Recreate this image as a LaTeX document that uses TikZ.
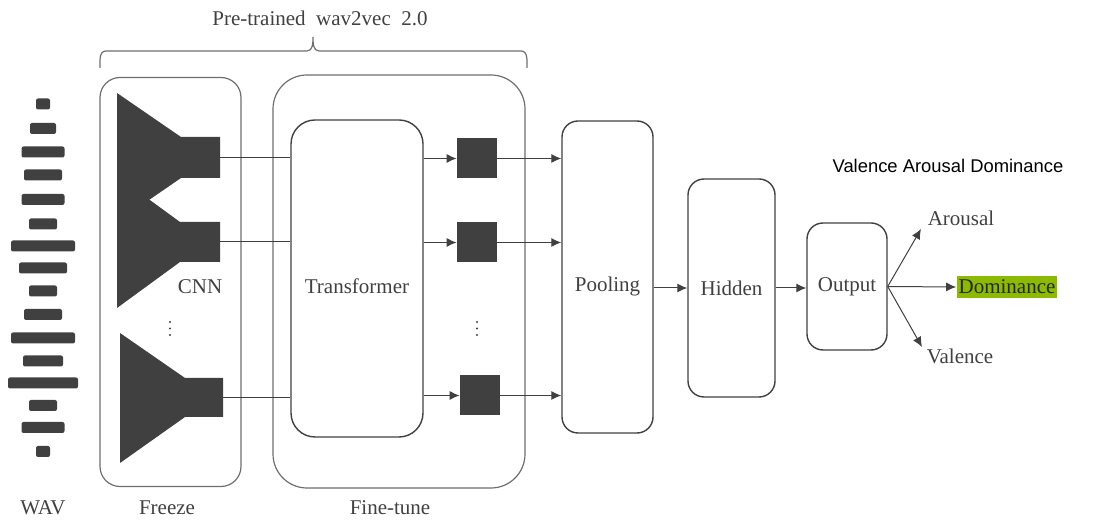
\documentclass[tikz,border=0pt]{standalone}
\usepackage{fontspec}
\setmainfont{Liberation Serif}
\newfontfamily\labelsans{Liberation Sans}
\usetikzlibrary{arrows,arrows.meta}
\usetikzlibrary{positioning}

\definecolor{ink}{HTML}{404040}
\definecolor{rim}{HTML}{6E6E6E}
\definecolor{hilite}{HTML}{8CBA00}

\begin{document}
\begin{tikzpicture}
	[> = {Latex[length=5pt,width=4.5pt]},
	x=0.5pt, y=-0.5pt,
	every node/.style={font=\fontsize{10.5}{12}\selectfont, text=ink},
	frame/.style = {draw=rim, line width=0.6pt, rounded corners=10pt},
	block/.style = {draw=ink, line width=0.7pt, rounded corners=8pt},
	chip/.style = {fill=ink, minimum size=20pt, inner sep=0pt},
	bar/.style = {fill=ink, rounded corners=1pt},
	link/.style = {draw=ink, line width=0.5pt},
	cnn/.style = {fill=ink}
	]
	\useasboundingbox (0,0) rectangle (1093,523);

	% waveform
	\foreach \ya/\w in {104/14, 128.5/26, 152/43, 175/38, 199.5/43, 224/28, 246/64, 268/48,
	                    291/28, 314.5/38, 338/64, 361/40, 383/70, 405.5/28, 427.5/43, 451.5/14}
		\fill[bar] (43-\w/2,\ya-5.5) rectangle (43+\w/2,\ya+5.5);
	\node (wav) at (43,508) {WAV};

	% outer frames
	\node[frame, minimum width=70.5pt, minimum height=204.5pt] (freeze) at (170.5,282) {};
	\node[frame, rounded corners=17pt, minimum width=126pt, minimum height=206.5pt] (finetune) at (399,281.5) {};
	\node (freeze-lbl) at (167,508) {Freeze};
	\node (finetune-lbl) at (390,508) {Fine-tune};

	% brace
	\draw[rim, line width=0.6pt] (100,68) to[out=90,in=180] (106,51) -- (307,51)
		to[out=0,in=-90] (313,37) to[out=-90,in=180] (319,51) -- (521,51) to[out=0,in=90] (527,68);
	\node (brace-lbl) at (320,18) {Pre-trained\ \ wav2vec\ \ 2.0};

	% CNN encoders
	\fill[cnn] (117,93) -- (181,137) -- (220,137) -- (220,178) -- (181,178) -- (117,222) -- cycle;
	\fill[cnn] (117,176) -- (180,222) -- (220,222) -- (220,262) -- (180,262) -- (117,308) -- cycle;
	\fill[cnn] (120,333) -- (185,378) -- (223,378) -- (223,417) -- (185,417) -- (120,463) -- cycle;
	\coordinate (c1) at (220,157.5);
	\coordinate (c2) at (220,242);
	\coordinate (c3) at (223,397.5);
	\node (cnn-lbl) at (200,287) {CNN};
	\foreach \yd in {322,328.5,335} {
		\fill[ink] (170,\yd) circle (0.6pt);
		\fill[ink] (477,\yd) circle (0.6pt);
	}

	% transformer
	\node[block, rounded corners=12pt, minimum width=66pt, minimum height=158.5pt] (trans) at (357,278.5) {};
	\node (trans-lbl) at (357,286) {Transformer};

	\node[chip] (sq1) at (477,158.5) {};
	\node[chip] (sq2) at (477,242.5) {};
	\node[chip] (sq3) at (480,395.5) {};

	% heads
	\node[block, minimum width=45.5pt, minimum height=156pt] (pool) at (607.5,277) {};
	\node (pool-lbl) at (607.5,286) {Pooling};
	\node[block, minimum width=43.5pt, minimum height=109pt] (hidden) at (731.5,288) {Hidden};
	\node[block, minimum width=40pt, minimum height=63.5pt] (out) at (847,286.5) {Output};

	% connectors
	\draw[link] (c1) -- (trans.west |- c1);
	\draw[link] (c2) -- (trans.west |- c2);
	\draw[link] (c3) -- (trans.west |- c3);
	\foreach \s in {sq1,sq2,sq3} {
		\draw[link,->] (trans.east |- \s) -- (\s.west);
		\draw[link,->] (\s.east) -- (pool.west |- \s);
	}
	\draw[link,->] (pool.east |- hidden) -- (hidden.west);
	\draw[link,->] (hidden.east) -- (out.west |- hidden);

	% outputs
	\node (title) at (948,166) {\labelsans\fontsize{9.2}{11}\selectfont\color{black}Valence Arousal Dominance};
	\node (aro) at (961,218) {Arousal};
	\node (val) at (960,356) {Valence};
	\node[fill=hilite, inner sep=1pt, minimum height=11pt, text=black!85] (dom) at (1007,287) {Dominance};
	\coordinate (aro-tip) at (921,229);
	\coordinate (val-tip) at (922,347);
	\draw[link,->] (out.east) -- (aro-tip);
	\draw[link,->] (out.east) -- (dom.west);
	\draw[link,->] (out.east) -- (val-tip);
\end{tikzpicture}
\end{document}
